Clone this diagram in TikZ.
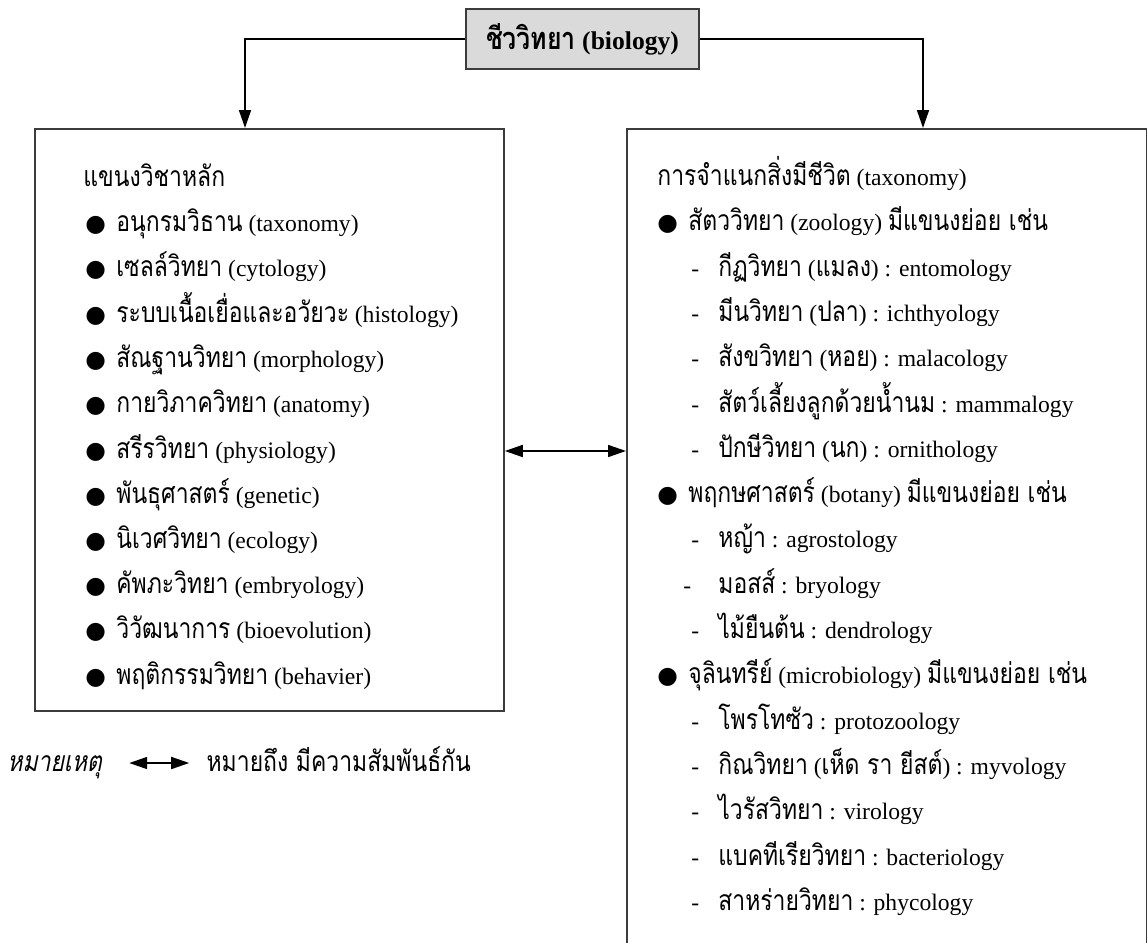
\documentclass[tikz,border=0pt]{standalone}
\usepackage{fontspec}
\setmainfont{Liberation Serif}
\newfontfamily\thaifont[Script=Thai,Scale=1.2,FakeStretch=0.81]{Loma}
\newfontfamily\thaiit[Script=Thai,Scale=1.2,FakeStretch=0.81,FakeSlant=0.2]{Loma}
\newfontfamily\dotfont{DejaVu Sans}
\usetikzlibrary{arrows.meta,positioning}
\definecolor{frame}{RGB}{60,60,60}
\definecolor{titlegray}{RGB}{218,218,218}
\newcommand{\thai}[1]{{\thaifont #1}}
\newcommand{\blt}{\makebox[15.5pt][l]{\dotfont ●}}
\newcommand{\dsh}{\makebox[13.5pt][l]{-}}
\newcommand{\dshw}{\makebox[17.5pt][l]{-}}

\begin{document}
\begin{tikzpicture}[x=0.5pt, y=-0.5pt, font=\fontsize{11.8}{14}\selectfont,
title/.style={draw=frame, fill=titlegray, line width=1pt, minimum width=116.5pt, minimum height=30pt, font=\fontsize{12.8}{15}\selectfont\bfseries},
panel/.style={draw=frame, line width=0.9pt, anchor=north west, inner sep=0pt},
item/.style={anchor=west, inner sep=0pt, text height=12pt, text depth=4pt},
link/.style={-{Triangle[length=9pt,width=6pt]}, line width=0.8pt},
twoway/.style={{Triangle[length=9pt,width=6pt]}-{Triangle[length=9pt,width=6pt]}, line width=0.8pt}]
\useasboundingbox (0,0) rectangle (1147,943);

\node[title] (bio) at (582.5,39) {\thai{ชีววิทยา} (biology)};
\node[panel, minimum width=234.5pt, minimum height=291pt] (main) at (34,128) {};
\node[panel, minimum width=260pt, minimum height=416pt] (taxo) at (626,128) {};
\coordinate (maintop) at (245,128);
\coordinate (taxotop) at (923,128);
\coordinate (mid) at (565,451);

\draw[link] (bio.west) -| (maintop);
\draw[link] (bio.east) -| (taxotop);
\draw[twoway] (main.east |- mid) -- (taxo.west |- mid);

% main branches
\node[item] (mainhead) at (83,178) {\thai{แขนงวิชาหลัก}};
\node[item] (m1) at (85,223) {\blt\thai{อนุกรมวิธาน} (taxonomy)};
\node[item] (m2) at (85,268) {\blt\thai{เซลล์วิทยา} (cytology)};
\node[item] (m3) at (85,314) {\blt\thai{ระบบเนื้อเยื่อและอวัยวะ} (histology)};
\node[item] (m4) at (85,359) {\blt\thai{สัณฐานวิทยา} (morphology)};
\node[item] (m5) at (85,404) {\blt\thai{กายวิภาควิทยา} (anatomy)};
\node[item] (m6) at (85,450) {\blt\thai{สรีรวิทยา} (physiology)};
\node[item] (m7) at (85,495) {\blt\thai{พันธุศาสตร์} (genetic)};
\node[item] (m8) at (85,540) {\blt\thai{นิเวศวิทยา} (ecology)};
\node[item] (m9) at (85,585) {\blt\thai{คัพภะวิทยา} (embryology)};
\node[item] (m10) at (85,630) {\blt\thai{วิวัฒนาการ} (bioevolution)};
\node[item] (m11) at (85,676) {\blt\thai{พฤติกรรมวิทยา} (behavier)};

% taxonomy
\node[item] (taxohead) at (657,177) {\thai{การจำแนกสิ่งมีชีวิต} (taxonomy)};
\node[item] (t1) at (657,222) {\blt\thai{สัตววิทยา} (zoology) \thai{มีแขนงย่อย เช่น}};
\node[item] (t2) at (691,268) {\dsh\thai{กีฏวิทยา} (\thai{แมลง}) : entomology};
\node[item] (t3) at (691,313) {\dsh\thai{มีนวิทยา} (\thai{ปลา}) : ichthyology};
\node[item] (t4) at (691,358) {\dsh\thai{สังขวิทยา} (\thai{หอย}) : malacology};
\node[item] (t5) at (691,404) {\dsh\thai{สัตว์เลี้ยงลูกด้วยน้ำนม} : mammalogy};
\node[item] (t6) at (691,449) {\dsh\thai{ปักษีวิทยา} (\thai{นก}) : ornithology};
\node[item] (t7) at (657,494) {\blt\thai{พฤกษศาสตร์} (botany) \thai{มีแขนงย่อย เช่น}};
\node[item] (t8) at (691,539) {\dsh\thai{หญ้า} : agrostology};
\node[item] (t9) at (683,585) {\dshw\thai{มอสส์} : bryology};
\node[item] (t10) at (691,630) {\dsh\thai{ไม้ยืนต้น} : dendrology};
\node[item] (t11) at (657,675) {\blt\thai{จุลินทรีย์} (microbiology) \thai{มีแขนงย่อย เช่น}};
\node[item] (t12) at (691,721) {\dsh\thai{โพรโทซัว} : protozoology};
\node[item] (t13) at (691,766) {\dsh\thai{กิณวิทยา} (\thai{เห็ด รา ยีสต์}) : myvology};
\node[item] (t14) at (691,811) {\dsh\thai{ไวรัสวิทยา} : virology};
\node[item] (t15) at (691,857) {\dsh\thai{แบคทีเรียวิทยา} : bacteriology};
\node[item] (t16) at (691,902) {\dsh\thai{สาหร่ายวิทยา} : phycology};

% legend
\node[item] (note) at (7,763) {\thaiit หมายเหตุ};
\node[item, right=52pt of note] (means) {\thai{หมายถึง มีความสัมพันธ์กัน}};
\draw[twoway] ([xshift=13.5pt]note.east) -- ([xshift=-8.5pt]means.west);
\end{tikzpicture}
\end{document}
